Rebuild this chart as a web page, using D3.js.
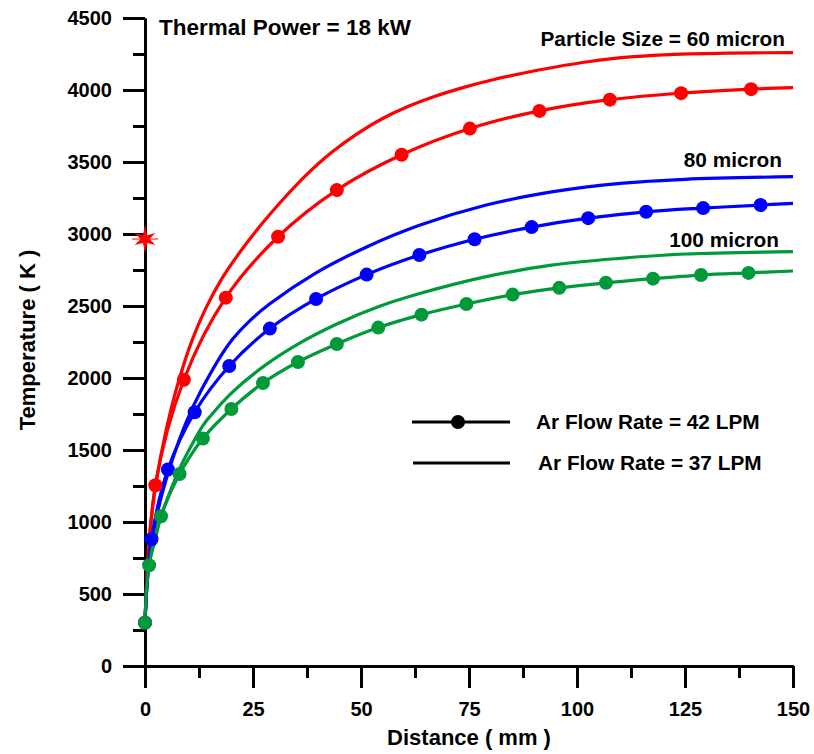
<!DOCTYPE html>
<html>
<head>
<meta charset="utf-8">
<script src="https://cdn.jsdelivr.net/npm/d3@7"></script>
<style>
  body { margin: 0; background: #fff; }
  svg text { font-family: "Liberation Sans", Arial, Helvetica, sans-serif; font-weight: bold; fill: #000; }
</style>
</head>
<body>
<script>
// Axis tick values
const xMajor = [0, 25, 50, 75, 100, 125, 150];
const xMinor = [12.5, 37.5, 62.5, 87.5, 112.5, 137.5];
const yMajor = [0, 500, 1000, 1500, 2000, 2500, 3000, 3500, 4000, 4500];
const yMinor = [250, 750, 1250, 1750, 2250, 2750, 3250, 3750, 4250];

// Ar flow rate = 42 LPM (markers; last point is the line end at 150 mm)
const red42 = [[0,300],[2.4,1255],[9,1988],[18.7,2558],[30.8,2981],[44.4,3305],[59.4,3550],[75.2,3732],[91.3,3855],[107.6,3933],[124.1,3978],[140.3,4006],[150,4016]];
const blue42 = [[0,300],[1.5,880],[5.3,1365],[11.5,1762],[19.5,2083],[28.9,2343],[39.6,2549],[51.3,2718],[63.5,2854],[76.3,2964],[89.5,3048],[102.6,3110],[116,3154],[129.2,3180],[142.5,3201],[150,3213]];
const green42 = [[0,300],[0.95,700],[3.7,1040],[8,1333],[13.4,1580],[20,1785],[27.3,1965],[35.4,2111],[44.4,2236],[54,2350],[64,2440],[74.4,2514],[85.1,2579],[95.9,2626],[106.7,2661],[117.6,2690],[128.7,2715],[139.7,2730],[150,2743]];

// Ar flow rate = 37 LPM (plain lines)
const red37 = [[0,300],[0.5,650],[1.2,950],[2.5,1260],[4,1510],[6,1780],[8,2000],[11,2270],[14,2480],[18,2700],[22,2875],[26.5,3050],[31.2,3215],[37,3400],[43,3562],[49,3694],[55,3802],[61,3887],[67,3955],[74,4020],[81,4075],[88,4120],[95,4160],[103,4198],[111,4226],[120,4244],[135,4256],[150,4260]];
const blue37 = [[0,300],[0.8,700],[2.3,980],[4,1200],[6.2,1420],[9.5,1690],[13.1,1920],[19.5,2240],[24,2390],[28.9,2515],[39.6,2730],[51.3,2910],[63.7,3062],[79,3201],[94.5,3294],[110,3352],[125,3380],[150,3398]];
const green37 = [[0,300],[0.95,700],[2.3,870],[3.7,1040],[5.4,1180],[8,1370],[9.3,1450],[13.4,1670],[15.4,1745],[20,1895],[27.3,2077],[35.4,2235],[44.4,2375],[54,2495],[64,2590],[79,2704],[94.5,2785],[110,2831],[125,2861],[150,2877]];

// single starred point on the axis
const starPoint = [0, 2965];

const colors = { red: "#ff0000", blue: "#0000ff", green: "#009a3a" };

const W = 814, H = 754;
const svg = d3.select("body").append("svg")
    .attr("width", W)
    .attr("height", H);

const x = d3.scaleLinear().domain([0, 150]).range([145, 793]);
const y = d3.scaleLinear().domain([0, 4500]).range([666, 18]);

// Axes
function styleAxis(g) {
    g.selectAll("path, line").attr("stroke", "#000").attr("stroke-width", 3);
    g.selectAll("text").attr("font-size", "20px").attr("fill", "#000");
}

svg.append("g")
    .attr("transform", `translate(0,${y(0)})`)
    .call(d3.axisBottom(x).tickValues(xMinor).tickSize(12).tickSizeOuter(0).tickFormat(""))
    .call(styleAxis);
svg.append("g")
    .attr("transform", `translate(0,${y(0)})`)
    .call(d3.axisBottom(x).tickValues(xMajor).tickSize(22).tickSizeOuter(0).tickPadding(14).tickFormat(d3.format("d")))
    .call(styleAxis);

svg.append("g")
    .attr("transform", `translate(${x(0)},0)`)
    .call(d3.axisLeft(y).tickValues(yMinor).tickSize(12).tickSizeOuter(0).tickFormat(""))
    .call(styleAxis);
svg.append("g")
    .attr("transform", `translate(${x(0)},0)`)
    .call(d3.axisLeft(y).tickValues(yMajor).tickSize(22).tickSizeOuter(0).tickPadding(11).tickFormat(d3.format("d")))
    .call(styleAxis);

// Curves
const line = d3.line()
    .x(d => x(d[0]))
    .y(d => y(d[1]))
    .curve(d3.curveCatmullRom.alpha(0.5));

const plain = [[red37, colors.red], [blue37, colors.blue], [green37, colors.green]];
const marked = [[red42, colors.red], [blue42, colors.blue], [green42, colors.green]];

plain.concat(marked).forEach(([data, c]) => {
    svg.append("path")
        .datum(data)
        .attr("fill", "none")
        .attr("stroke", c)
        .attr("stroke-width", 3.2)
        .attr("d", line);
});

marked.forEach(([data, c]) => {
    svg.append("g").selectAll("circle")
        .data(data.filter(d => d[0] < 150))
        .enter()
        .append("circle")
        .attr("cx", d => x(d[0]))
        .attr("cy", d => y(d[1]))
        .attr("r", 7)
        .attr("fill", c);
});

// Star marker
const sx = x(starPoint[0]), sy = y(starPoint[1]);
const starPts = d3.range(12).map(i => {
    const a = Math.PI / 6 * i - Math.PI / 2;
    const r = i % 2 === 0 ? 12 : 4.5;
    return [sx + r * Math.cos(a), sy + r * Math.sin(a)];
});
svg.append("polygon")
    .attr("points", starPts.map(p => p.join(",")).join(" "))
    .attr("fill", colors.red);
svg.append("line")
    .attr("x1", sx - 13).attr("x2", sx + 13).attr("y1", sy).attr("y2", sy)
    .attr("stroke", colors.red).attr("stroke-width", 1);
svg.append("line")
    .attr("x1", sx).attr("x2", sx).attr("y1", sy - 13).attr("y2", sy + 13)
    .attr("stroke", colors.red).attr("stroke-width", 1);

// Annotations
svg.append("text").attr("x", 159).attr("y", 35).attr("font-size", "22.5px").text("Thermal Power = 18 kW");
svg.append("text").attr("x", 785).attr("y", 46).attr("font-size", "20.8px").attr("text-anchor", "end").text("Particle Size = 60 micron");
svg.append("text").attr("x", 782).attr("y", 167).attr("font-size", "20.8px").attr("text-anchor", "end").text("80 micron");
svg.append("text").attr("x", 779).attr("y", 247).attr("font-size", "20.8px").attr("text-anchor", "end").text("100 micron");

// Legend
const legend = svg.append("g");
legend.append("line").attr("x1", 412).attr("x2", 510).attr("y1", 422).attr("y2", 422)
    .attr("stroke", "#000").attr("stroke-width", 3);
legend.append("circle").attr("cx", 458).attr("cy", 422).attr("r", 7).attr("fill", "#000");
legend.append("text").attr("x", 536).attr("y", 429).attr("font-size", "20.8px").text("Ar Flow Rate = 42 LPM");
legend.append("line").attr("x1", 413).attr("x2", 510).attr("y1", 463).attr("y2", 463)
    .attr("stroke", "#000").attr("stroke-width", 3);
legend.append("text").attr("x", 538).attr("y", 470).attr("font-size", "20.8px").text("Ar Flow Rate = 37 LPM");

// Axis titles
svg.append("text")
    .attr("x", 469).attr("y", 745)
    .attr("text-anchor", "middle")
    .attr("font-size", "22px")
    .text("Distance ( mm )");
svg.append("text")
    .attr("transform", "translate(35,340) rotate(-90)")
    .attr("text-anchor", "middle")
    .attr("font-size", "22px")
    .text("Temperature ( K )");
</script>
</body>
</html>
